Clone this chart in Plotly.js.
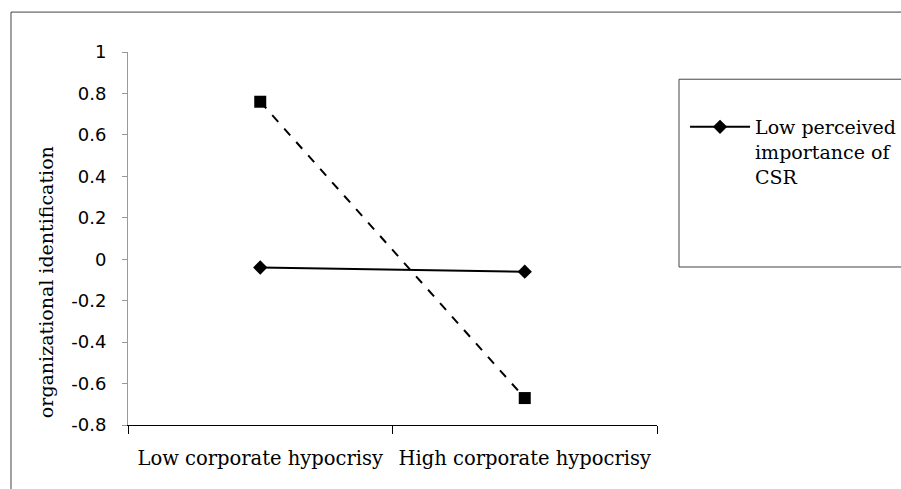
<!DOCTYPE html>
<html><head><meta charset="utf-8">
<script src="https://cdn.plot.ly/plotly-3.0.1.min.js"></script>
<style>html,body{margin:0;padding:0;background:#fff}</style>
</head><body>
<div id="chart" style="width:901px;height:489px"></div>
<script>
const categories = ["Low corporate hypocrisy", "High corporate hypocrisy"];
const lowImportance = [-0.04, -0.06];
const highImportance = [0.76, -0.67];
const yTickVals = [-0.8, -0.6, -0.4, -0.2, 0, 0.2, 0.4, 0.6, 0.8, 1];
const yTickText = ["-0.8", "-0.6", "-0.4", "-0.2", "0", "0.2", "0.4", "0.6", "0.8", "1"];
const yTitle = "organizational identification";

const serif = "DejaVu Serif, Liberation Serif, serif";
const sans = "DejaVu Sans, Liberation Sans, sans-serif";

const traces = [
  {
    x: categories, y: lowImportance, type: "scatter", mode: "lines+markers",
    name: "Low perceived<br>importance of<br>CSR",
    line: {color: "#000", width: 2},
    marker: {symbol: "diamond", size: 11, color: "#000"}
  },
  {
    x: categories, y: highImportance, type: "scatter", mode: "lines+markers",
    name: "High perceived importance of CSR", showlegend: false,
    line: {color: "#000", width: 2, dash: "dash"},
    marker: {symbol: "square", size: 12, color: "#000"}
  }
];

const layout = {
  width: 901, height: 489,
  margin: {l: 128, r: 244, t: 52, b: 64, autoexpand: false},
  paper_bgcolor: "#fff", plot_bgcolor: "#fff",
  showlegend: true,
  legend: {
    x: 1.053, y: 0.85, xanchor: "left", yanchor: "top",
    bgcolor: "rgba(0,0,0,0)", borderwidth: 0,
    font: {family: serif, size: 19, color: "#000"},
    itemwidth: 60, tracegroupgap: 0, valign: "top"
  },
  xaxis: {
    type: "category", range: [-0.5, 1.5], automargin: false,
    showline: true, linecolor: "#000", linewidth: 1,
    ticks: "outside", tickson: "boundaries", ticklen: 8, tickcolor: "#000",
    ticklabelstandoff: 16, tickangle: 0,
    showgrid: false, zeroline: false,
    tickfont: {family: serif, size: 19.5, color: "#000"}
  },
  yaxis: {
    range: [-0.8, 1], tickvals: yTickVals, ticktext: yTickText, automargin: false,
    showline: true, linecolor: "#999", linewidth: 1,
    ticks: "outside", ticklen: 5, tickcolor: "#999",
    ticklabelstandoff: 12,
    showgrid: false, zeroline: false,
    tickfont: {family: sans, size: 18, color: "#000"}
  },
  annotations: [
    {text: yTitle, xref: "paper", yref: "paper", x: -0.155, y: 0.383,
     xanchor: "center", yanchor: "middle", textangle: -90, showarrow: false,
     font: {family: serif, size: 19, color: "#000"}}
  ],
  shapes: [
    {type: "rect", xref: "paper", yref: "paper", x0: -0.2212, x1: 1.6, y0: 1.107, y1: -0.4,
     line: {color: "#444", width: 1}, fillcolor: "rgba(0,0,0,0)", layer: "below"},
    {type: "rect", xref: "paper", yref: "paper", x0: 1.0416, x1: 1.6, y0: 0.927, y1: 0.4236,
     line: {color: "#444", width: 1}, fillcolor: "rgba(0,0,0,0)", layer: "below"}
  ]
};

Plotly.newPlot("chart", traces, layout, {displayModeBar: false, responsive: false});
</script>
</body></html>
